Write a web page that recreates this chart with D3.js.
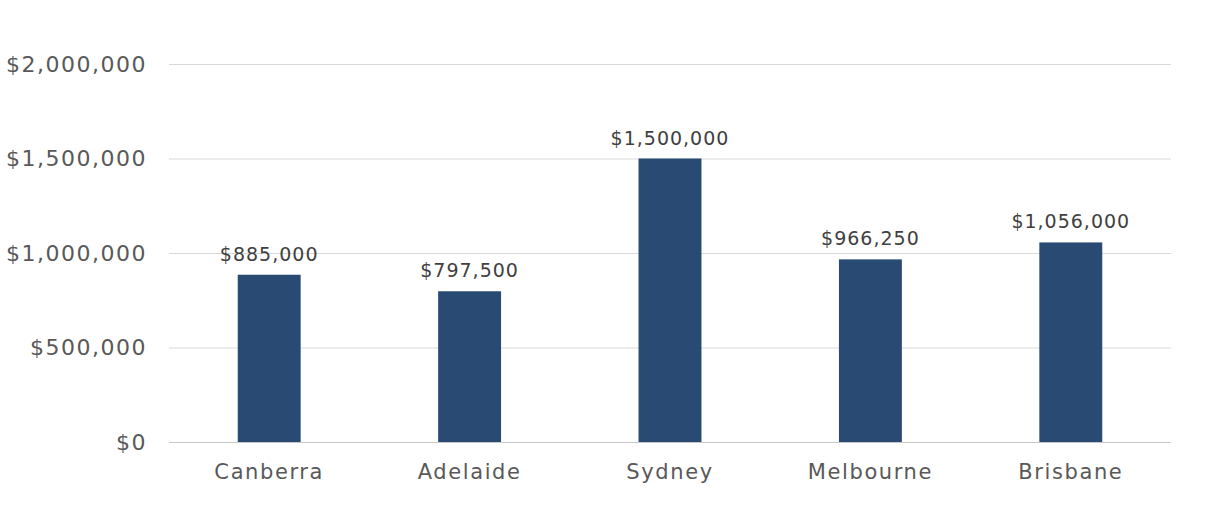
<!DOCTYPE html>
<html><head><meta charset="utf-8">
<script src="https://cdn.jsdelivr.net/npm/d3@7"></script>
<style>body{margin:0;background:#fff;} svg{display:block;}</style>
</head><body><svg id="c" width="1207" height="515"></svg>
<script>
const categories = ["Canberra","Adelaide","Sydney","Melbourne","Brisbane"];
const values = [885000, 797500, 1500000, 966250, 1056000];
const yTicks = [0, 500000, 1000000, 1500000, 2000000];

const svg = d3.select("#c");
const W = 1207, H = 515;
const m = {left:169, right:36, top:64, bottom:73};
const x = d3.scaleBand().domain(categories).range([m.left, W - m.right]).paddingInner(0.686).paddingOuter(0.343);
const y = d3.scaleLinear().domain([0, 2000000]).range([H - m.bottom, m.top]);
const fmt = v => "$" + d3.format(",")(v);
const font = "'DejaVu Sans', sans-serif";

// gridlines
svg.append("g").selectAll("line").data(yTicks).join("line")
  .attr("x1", m.left).attr("x2", W - m.right)
  .attr("y1", d => y(d) + 0.5).attr("y2", d => y(d) + 0.5)
  .attr("stroke", d => d === 0 ? "#c8c8c8" : "#d9d9d9").attr("stroke-width", 1);

// y axis
const ya = svg.append("g").attr("transform", `translate(${m.left - 22},0)`)
  .call(d3.axisLeft(y).tickValues(yTicks).tickFormat(fmt).tickSize(0).tickPadding(0));
ya.select(".domain").remove();
ya.selectAll("text").attr("font-family", font).attr("font-size", 22).attr("fill", "#595959")
  .attr("letter-spacing", "1.5px").attr("dy", "0.34em");

// x axis
const xa = svg.append("g").attr("transform", `translate(0,${H - m.bottom})`)
  .call(d3.axisBottom(x).tickSize(0).tickPadding(22));
xa.select(".domain").remove();
xa.selectAll("text").attr("font-family", font).attr("font-size", 21).attr("fill", "#595959")
  .attr("letter-spacing", "1.6px").attr("dy", "0.71em");

// bars
svg.append("g").selectAll("rect").data(categories).join("rect")
  .attr("x", d => x(d)).attr("width", x.bandwidth())
  .attr("y", (d,i) => y(values[i])).attr("height", (d,i) => y(0) - y(values[i]))
  .attr("fill", "#294b73");

// value labels
svg.append("g").selectAll("text").data(categories).join("text")
  .attr("x", d => x(d) + x.bandwidth()/2)
  .attr("y", (d,i) => y(values[i]) - 14)
  .attr("text-anchor", "middle")
  .attr("font-family", font).attr("font-size", 19).attr("fill", "#404040").attr("letter-spacing", "1px")
  .text((d,i) => fmt(values[i]));
</script></body></html>
